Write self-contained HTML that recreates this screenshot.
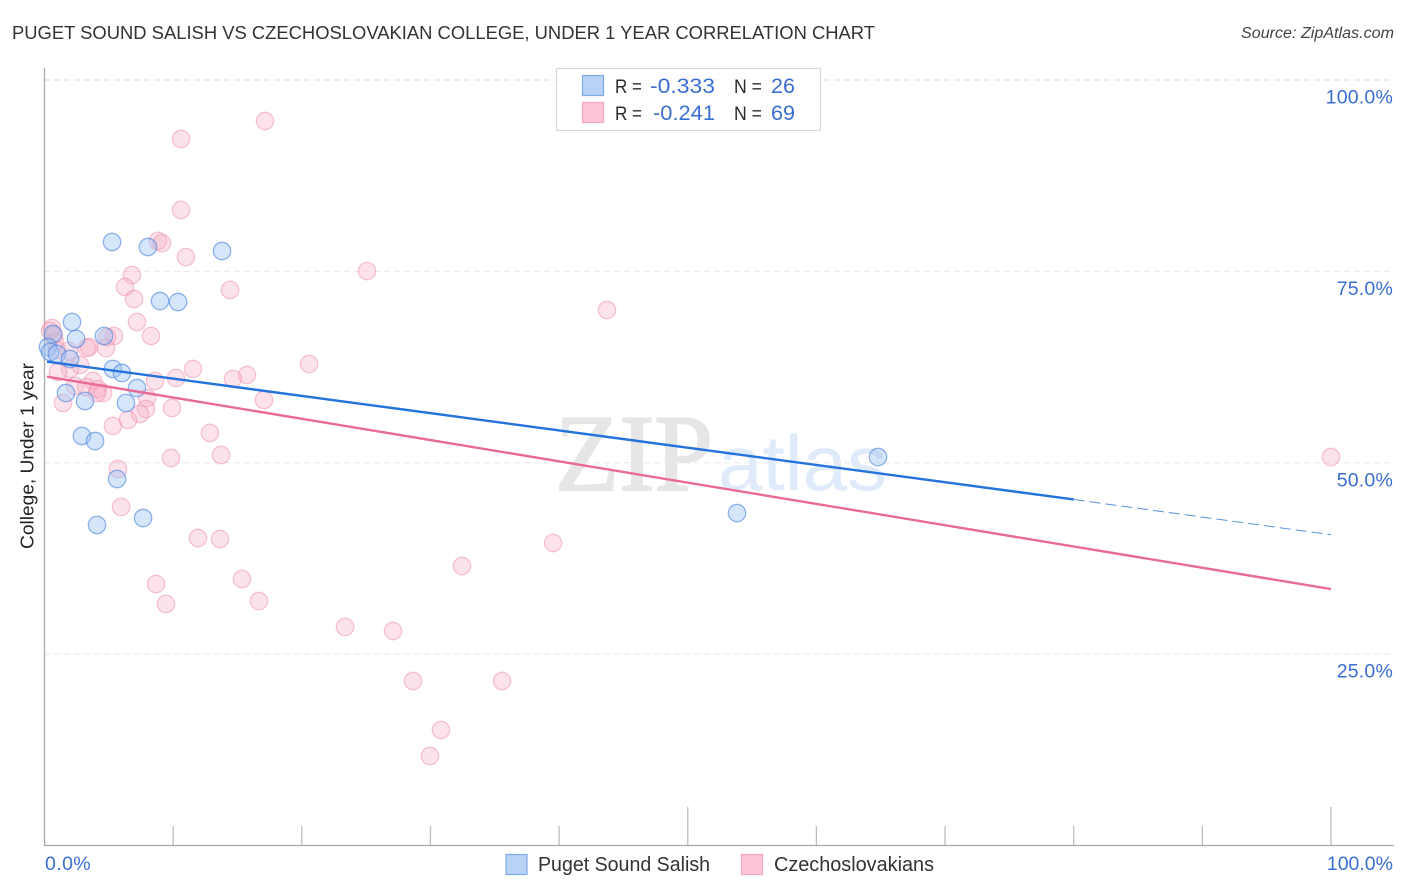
<!DOCTYPE html>
<html>
<head>
<meta charset="utf-8">
<title>Correlation Chart</title>
<style>
html,body{margin:0;padding:0;background:#fff;}
svg{display:block;font-family:"Liberation Sans",Arial,sans-serif;}
</style>
</head>
<body>
<svg id="chart" width="1406" height="892" viewBox="0 0 1406 892">
  <g id="watermark">
    <text x="555" y="490" font-family="Liberation Serif, serif" font-size="109" fill="#e6e6e6" stroke="#e6e6e6" stroke-width="2" textLength="158" lengthAdjust="spacingAndGlyphs">ZIP</text>
    <text x="718" y="490" style="font-family:'Liberation Sans',sans-serif" font-size="78" fill="#dfeafa" textLength="169" lengthAdjust="spacingAndGlyphs">atlas</text>
  </g>
  <g id="grid"></g>
  <g id="axes"></g>
  <g id="points"></g>
  <g id="trends"></g>

  <text x="12" y="39" font-size="18.5" fill="#333" textLength="863" lengthAdjust="spacingAndGlyphs">PUGET SOUND SALISH VS CZECHOSLOVAKIAN COLLEGE, UNDER 1 YEAR CORRELATION CHART</text>
  <text x="1241" y="38" font-size="15.5" font-style="italic" fill="#444" textLength="153" lengthAdjust="spacingAndGlyphs">Source: ZipAtlas.com</text>
  <text transform="translate(33.5,456) rotate(-90)" font-size="18.5" fill="#222" text-anchor="middle" textLength="186" lengthAdjust="spacingAndGlyphs">College, Under 1 year</text>

  <g id="stats-legend">
    <rect x="556.5" y="68.5" width="264" height="62" fill="#fff" fill-opacity="0.85" stroke="#d9d9d9" stroke-width="1.2"/>
    <rect x="582.5" y="75.5" width="21" height="20" fill="#b9d3f7" stroke="#7eaae8" stroke-width="1.2"/>
    <rect x="582.5" y="102.5" width="21" height="20" fill="#fcc6d8" stroke="#f3a5bf" stroke-width="1.2"/>
    <g font-size="20">
      <text x="615" y="93" fill="#2b2b2b" font-size="19" textLength="27" lengthAdjust="spacingAndGlyphs">R =</text>
      <text x="650" y="93" fill="#3a6fcf" font-size="21.5" textLength="65" lengthAdjust="spacingAndGlyphs">-0.333</text>
      <text x="734" y="93" fill="#2b2b2b" font-size="19" textLength="28" lengthAdjust="spacingAndGlyphs">N =</text>
      <text x="771" y="93" fill="#3a6fcf" font-size="21.5" textLength="24" lengthAdjust="spacingAndGlyphs">26</text>
      <text x="615" y="120" fill="#2b2b2b" font-size="19" textLength="27" lengthAdjust="spacingAndGlyphs">R =</text>
      <text x="653" y="120" fill="#3a6fcf" font-size="21.5" textLength="62" lengthAdjust="spacingAndGlyphs">-0.241</text>
      <text x="734" y="120" fill="#2b2b2b" font-size="19" textLength="28" lengthAdjust="spacingAndGlyphs">N =</text>
      <text x="771" y="120" fill="#3a6fcf" font-size="21.5" textLength="24" lengthAdjust="spacingAndGlyphs">69</text>
    </g>
  </g>

  <g id="series-legend">
    <rect x="506" y="854.5" width="21" height="20" fill="#b9d3f7" stroke="#7eaae8" stroke-width="1.2"/>
    <text x="538" y="871" font-size="20" fill="#333" textLength="172" lengthAdjust="spacingAndGlyphs">Puget Sound Salish</text>
    <rect x="741.5" y="854.5" width="21" height="20" fill="#fcc6d8" stroke="#f3a5bf" stroke-width="1.2"/>
    <text x="774" y="871" font-size="20" fill="#333" textLength="160" lengthAdjust="spacingAndGlyphs">Czechoslovakians</text>
  </g>
</svg>
<script>
// Data values (percent units)
var yTickValues = [100, 75, 50, 25];
var yTickLabels = ['100.0%', '75.0%', '50.0%', '25.0%'];
var xTickValues = [0, 10, 20, 30, 40, 50, 60, 70, 80, 90, 100];
var xMajorTicks = [50, 100];
var xEndLabels = ['0.0%', '100.0%'];

var salishX = [5.25, 8.04, 13.80, 8.98, 10.38, 2.14, 2.45, 4.62, 0.66, 0.27, 0.43, 0.97, 1.98, 5.32, 6.02, 7.19, 1.67, 3.15, 6.33, 2.91, 3.93, 5.64, 7.66, 4.08, 53.83, 64.79];
var salishY = [78.84, 78.18, 77.66, 71.13, 71.00, 68.39, 66.17, 66.56, 66.82, 65.12, 64.47, 64.21, 63.55, 62.25, 61.72, 59.76, 59.11, 58.07, 57.81, 53.50, 52.84, 47.88, 42.78, 41.87, 43.43, 50.75];

var czechX = [17.14, 10.61, 10.61, 8.82, 9.13, 11.0, 6.80, 25.07, 6.26, 14.42, 6.96, 43.72, 7.19, 8.28, 5.40, 4.86, 4.78, 3.46, 3.30, 0.58, 0.43, 0.74, 0.82, 0.97, 20.56, 11.54, 15.74, 14.65, 10.22, 8.59, 3.77, 2.76, 1.98, 1.05, 1.90, 2.37, 3.23, 4.16, 4.55, 4.08, 7.97, 17.06, 1.44, 9.91, 7.89, 7.42, 6.49, 5.32, 12.86, 13.72, 9.83, 5.71, 5.95, 11.93, 13.64, 39.53, 32.45, 8.67, 15.35, 9.44, 16.67, 23.36, 27.09, 28.64, 35.56, 30.82, 29.96, 100, 49.94];
var czechY = [94.64, 92.29, 83.02, 78.97, 78.71, 76.87, 74.52, 75.04, 72.96, 72.57, 71.39, 69.95, 68.39, 66.56, 66.56, 66.43, 64.99, 65.12, 64.99, 67.60, 67.21, 66.69, 65.77, 64.73, 62.90, 62.25, 61.46, 60.94, 61.07, 60.68, 60.68, 62.77, 62.25, 61.85, 64.6, 60.03, 59.9, 59.63, 59.11, 59.11, 58.46, 58.2, 57.81, 57.15, 57.02, 56.37, 55.59, 54.8, 53.89, 51.01, 50.62, 49.18, 44.22, 40.17, 40.04, 39.52, 36.51, 34.16, 34.81, 31.55, 31.94, 28.54, 28.02, 21.49, 21.49, 15.09, 11.69, 50.75, 99.6];

var salishTrendX = [0.2, 80];
var salishTrendY = [63.2, 45.2];
var salishTrendDashX = [80, 100];
var salishTrendDashY = [45.2, 40.6];
var czechTrendX = [0.2, 100];
var czechTrendY = [61.25, 33.5];

// Axis functions
function xScale(v) { return 44.5 + v * 12.865; }
function yScale(v) { return 845.5 - v * 7.655; }

var NS = 'http://www.w3.org/2000/svg';
function make(tag, attrs, parent) {
  var el = document.createElementNS(NS, tag);
  for (var k in attrs) el.setAttribute(k, attrs[k]);
  parent.appendChild(el);
  return el;
}

var gridG = document.getElementById('grid');
var axesG = document.getElementById('axes');
var pointsG = document.getElementById('points');
var trendsG = document.getElementById('trends');

// Grid lines and y labels
yTickValues.forEach(function (v, i) {
  var line = make('line', { x1: 44, x2: 1393, y1: yScale(v), y2: yScale(v), stroke: i === 0 ? '#d8d8d8' : '#e8e8e8', 'stroke-width': 1, 'stroke-dasharray': '6 4' }, gridG);
  
  
  var label = make('text', { x: 1393, y: yScale(v) + 23.5, 'text-anchor': 'end', 'font-size': 19.5, fill: '#3a6fcf', 'letter-spacing': 0.2 }, axesG);
  label.textContent = yTickLabels[i];
  
  
});

// Axis lines
var yAxis = make('line', { x1: 44.5, x2: 44.5, y1: 68, y2: 846, stroke: '#a9a9a9', 'stroke-width': 1.3 }, axesG);


var xAxis = make('line', { x1: 44, x2: 1394, y1: 845.5, y2: 845.5, stroke: '#a9a9a9', 'stroke-width': 1.3 }, axesG);



// X ticks
xTickValues.forEach(function (v) {
  if (v === 0) return;
  var major = xMajorTicks.indexOf(v) >= 0;
  var tick = make('line', { x1: xScale(v), x2: xScale(v), y1: major ? 807 : 826, y2: 845, stroke: '#bdbdbd', 'stroke-width': 1.3 }, axesG);
  
  
});

var xLabelLeft = make('text', { x: 45, y: 870, 'font-size': 19.5, fill: '#3a6fcf', 'letter-spacing': 0.4 }, axesG);
xLabelLeft.textContent = xEndLabels[0];


var xLabelRight = make('text', { x: 1393, y: 870, 'text-anchor': 'end', 'font-size': 19.5, fill: '#3a6fcf' }, axesG);
xLabelRight.textContent = xEndLabels[1];



// Points
czechX.forEach(function (x, i) {
  var c = make('circle', { cx: xScale(x), cy: yScale(czechY[i]), r: 8.7, fill: 'rgba(248,175,198,0.36)', stroke: 'rgba(236,140,172,0.48)', 'stroke-width': 1.3 }, pointsG);
  
  
});
salishX.forEach(function (x, i) {
  var c = make('circle', { cx: xScale(x), cy: yScale(salishY[i]), r: 8.7, fill: 'rgba(160,196,243,0.44)', stroke: 'rgba(70,130,220,0.58)', 'stroke-width': 1.3 }, pointsG);
  
  
});

// Trend lines
var t1 = make('line', { x1: xScale(czechTrendX[0]), y1: yScale(czechTrendY[0]), x2: xScale(czechTrendX[1]), y2: yScale(czechTrendY[1]), stroke: '#ea6a96', 'stroke-width': 2.4 }, trendsG);


var t2 = make('line', { x1: xScale(salishTrendX[0]), y1: yScale(salishTrendY[0]), x2: xScale(salishTrendX[1]), y2: yScale(salishTrendY[1]), stroke: '#2472dc', 'stroke-width': 2.4 }, trendsG);


var t3 = make('line', { x1: xScale(salishTrendDashX[0]), y1: yScale(salishTrendDashY[0]), x2: xScale(salishTrendDashX[1]), y2: yScale(salishTrendDashY[1]), stroke: '#5b8fd8', 'stroke-width': 1, 'stroke-dasharray': '11 5' }, trendsG);


</script>
</body>
</html>
